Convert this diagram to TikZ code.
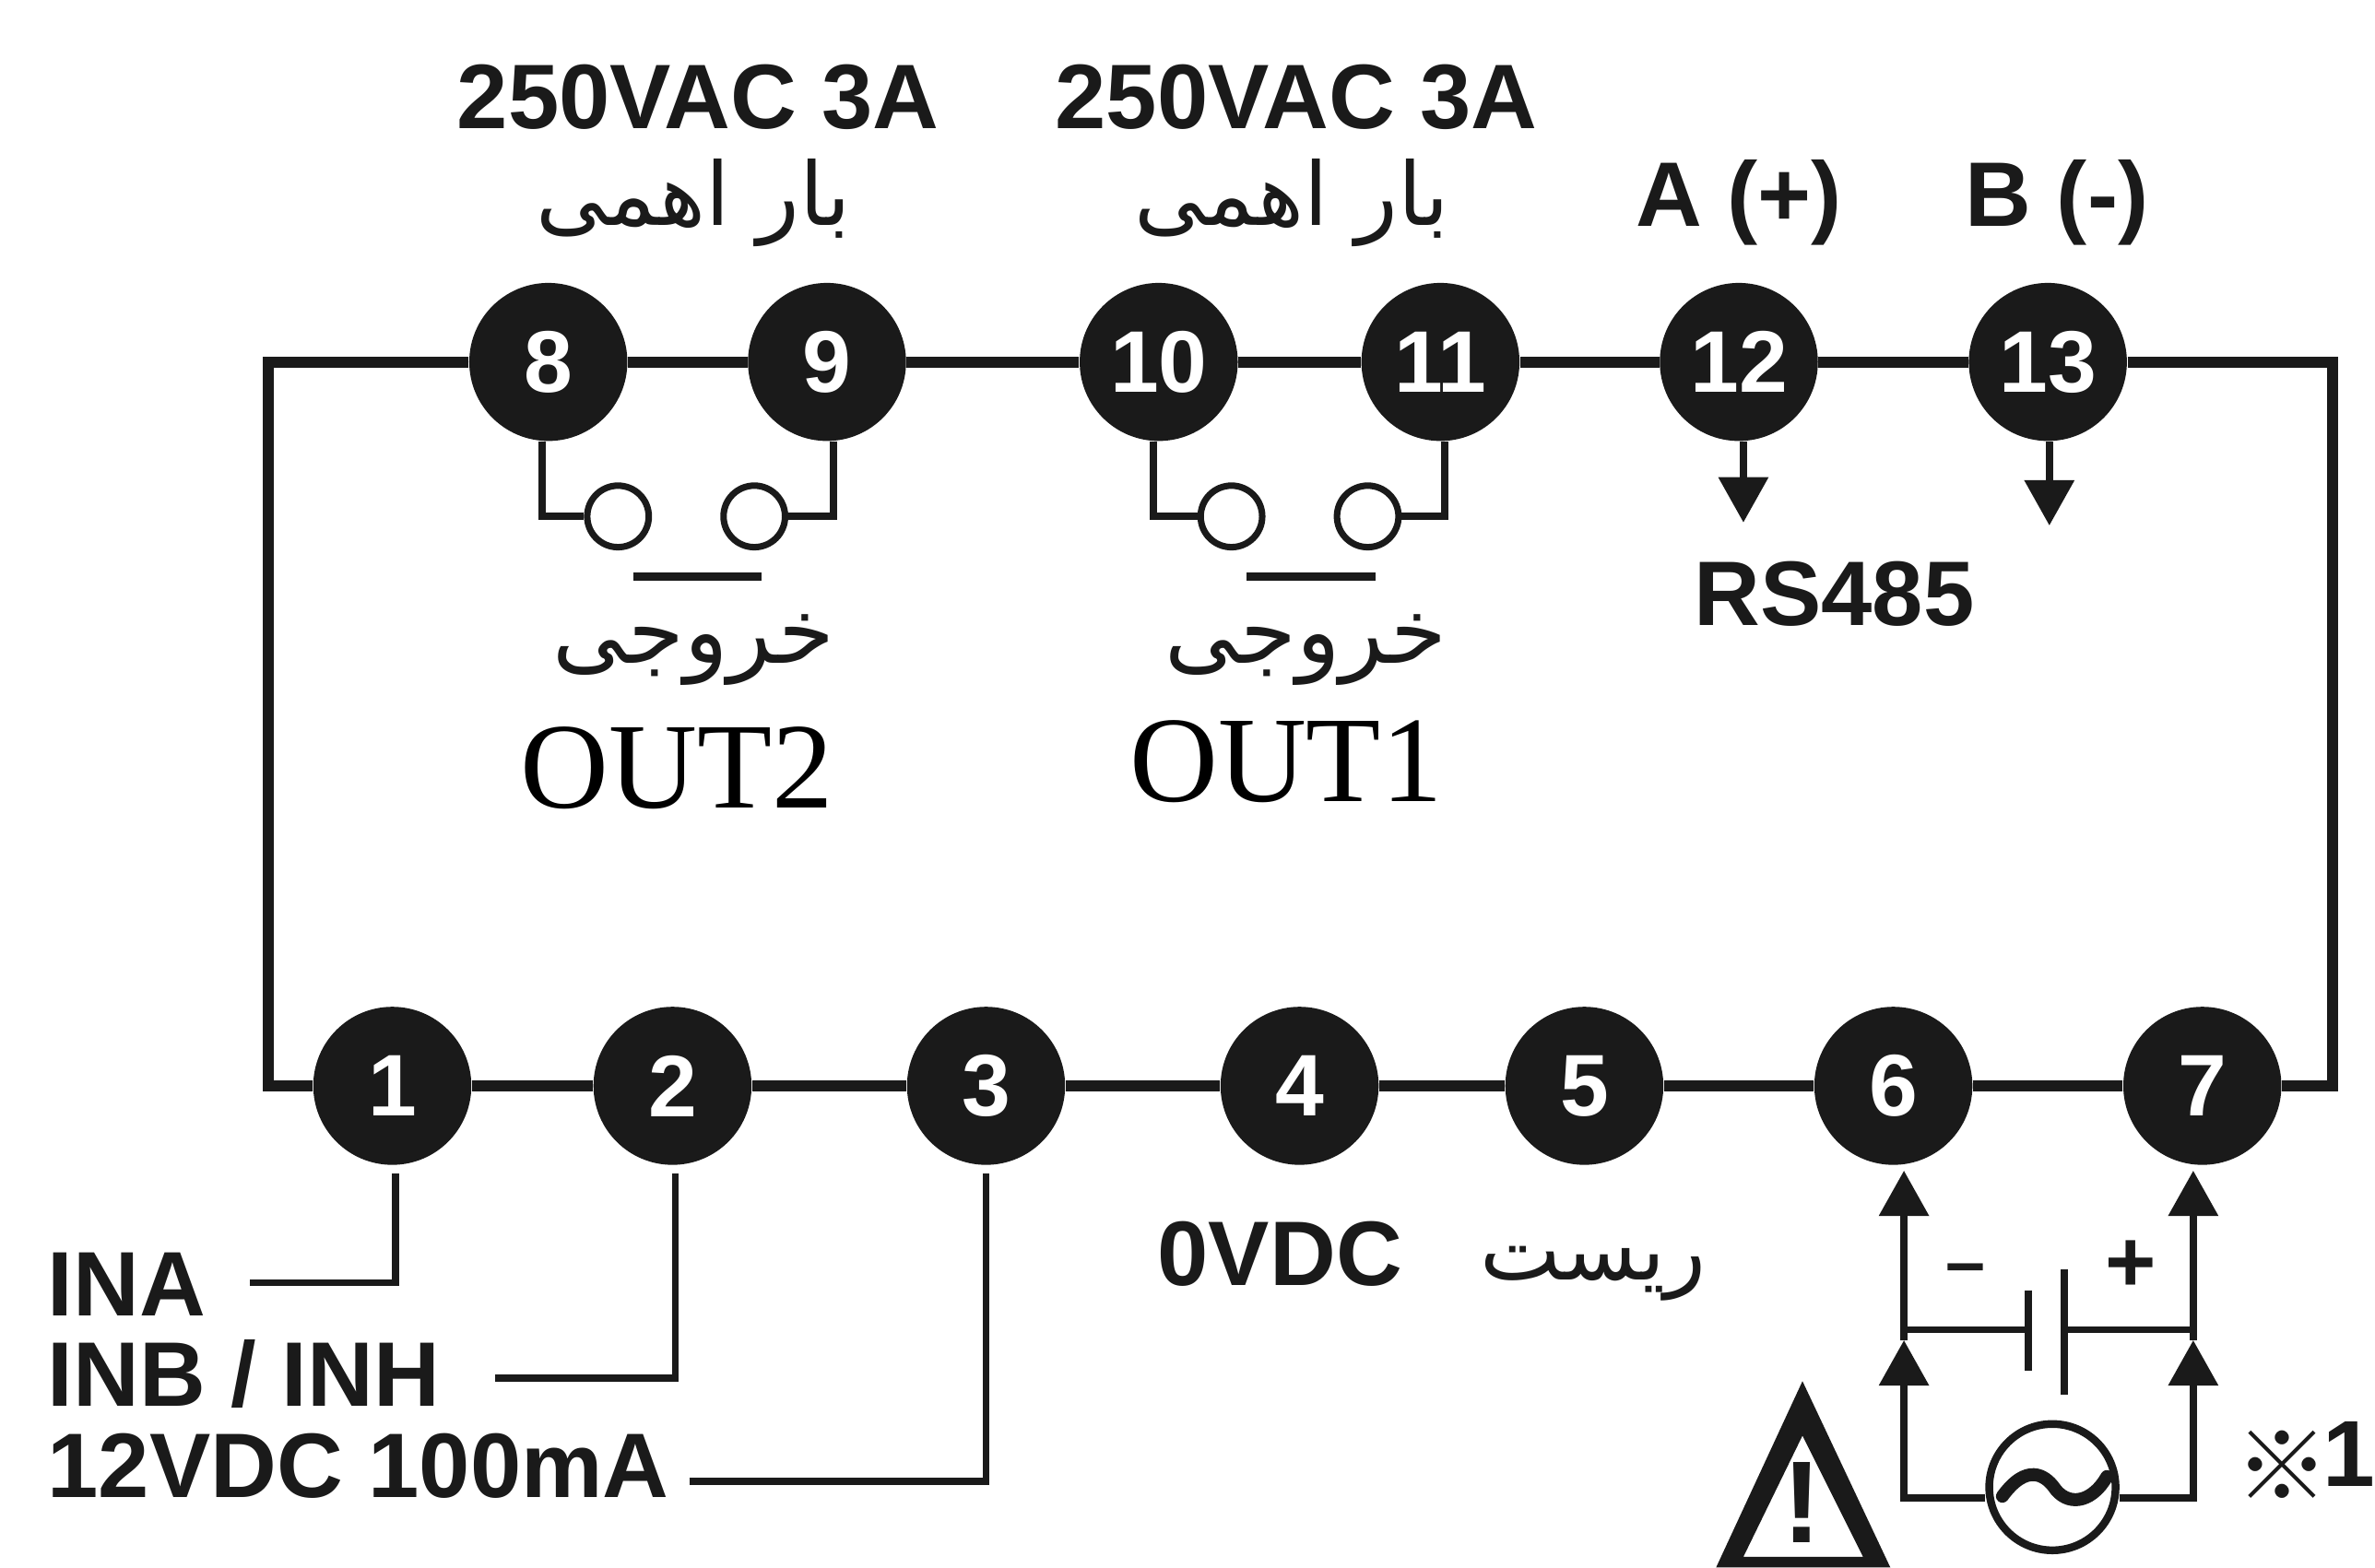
\documentclass[tikz,border=0pt]{standalone}
\usepackage{fontspec}
\usetikzlibrary{arrows.meta}
\setmainfont{Liberation Sans}
\newfontfamily\timesfont{Liberation Serif}
\newfontfamily\arabicfont[Script=Arabic]{DejaVu Sans}
\newfontfamily\cjkfont{Noto Sans CJK JP}
\TeXXeTstate=1
\definecolor{ink}{HTML}{1A1A1A}
\tikzset{
  term/.style={circle,fill=ink,text=white,minimum size=48.8pt,inner sep=0pt,font=\fontsize{27}{28}\selectfont\bfseries},
  contact/.style={circle,draw=ink,line width=2pt,fill=white,minimum size=19pt,inner sep=0pt},
  frameline/.style={draw=ink,line width=3.4pt,line join=miter},
  wire/.style={draw=ink,line width=2.2pt,line join=miter},
  arrowwire/.style={wire,-{Triangle[length=14pt,width=15pt]}},
  lab/.style={text=ink,inner sep=0pt,font=\fontsize{28.3}{29}\selectfont\bfseries},
  arlab/.style={text=ink,inner sep=0pt,font=\fontsize{27}{28}\selectfont\arabicfont},
  outlab/.style={text=black,inner sep=0pt,font=\fontsize{37.8}{38}\selectfont\timesfont},
}
\begin{document}
\begin{tikzpicture}[x=0.016429cm,y=-0.016429cm]
\useasboundingbox (0,0) rectangle (1568,1035);
% terminals
\foreach \n/\x in {8/362,9/546,10/765,11/951,12/1148,13/1352}
  \node[term] (n\n) at (\x,239) {\n};
\foreach \n/\x in {1/259,2/444,3/651,4/858,5/1046,6/1250,7/1454}
  \node[term] (n\n) at (\x,717) {\n};
% frame
\coordinate (tl) at (177,239);
\coordinate (tr) at (1540,239);
\coordinate (bl) at (177,717);
\coordinate (br) at (1540,717);
\draw[frameline] (n8) -- (n9) -- (n10) -- (n11) -- (n12) -- (n13) -- (tr) -- (br) -- (n7) -- (n6) -- (n5) -- (n4) -- (n3) -- (n2) -- (n1) -- (bl) -- (tl) -- (n8);
% contacts
\foreach \a/\x in {c8/408,c9/498,c10/813,c11/903}
  \node[contact] (\a) at (\x,341) {};
\draw[wire] ([xshift=-1.9pt]n8.south) |- (c8);
\draw[wire] ([xshift=1.9pt]n9.south) |- (c9);
\draw[wire] ([xshift=-1.6pt]n10.south) |- (c10);
\draw[wire] ([xshift=1.4pt]n11.south) |- (c11);
\coordinate (b2a) at (418,381); \coordinate (b2b) at (503,381);
\coordinate (b1a) at (823,381); \coordinate (b1b) at (908,381);
\draw[wire,line width=2.6pt] (b2a) -- (b2b);
\draw[wire,line width=2.6pt] (b1a) -- (b1b);
% RS485 arrows
\coordinate (a12) at (1151,345);
\coordinate (a13) at (1353,347);
\draw[arrowwire] (n12.south -| a12) -- (a12);
\draw[arrowwire] (n13.south -| a13) -- (a13);
% top labels
\node[lab] (v2) at (461,64) {250VAC 3A};
\node[lab] (v1) at (856,64) {250VAC 3A};
\node[arlab] (r2) at (458,134) {\beginR بار اهمی\endR};
\node[arlab] (r1) at (853,134) {\beginR بار اهمی\endR};
\node[lab] (la) at (1148,134) {A (+)};
\node[lab] (lb) at (1358,134) {B (-)};
\node[lab] (rs) at (1211,392) {RS485};
\node[arlab,font=\fontsize{28}{29}\selectfont\arabicfont] (k2) at (458,429) {\beginR خروجی\endR};
\node[arlab,font=\fontsize{28}{29}\selectfont\arabicfont] (k1) at (862,429) {\beginR خروجی\endR};
\node[outlab] (o2) at (447,507) {OUT2};
\node[outlab] (o1) at (849,503) {OUT1};
% inputs
\node[lab,anchor=west] (ina) at (31,848) {INA};
\node[lab,anchor=west] (inb) at (31,907) {INB / INH};
\node[lab,anchor=west] (v12) at (31,968) {12VDC 100mA};
\coordinate (wa) at (165,847);
\coordinate (wb) at (327,910);
\coordinate (wc) at (455,978);
\draw[wire,shorten >=2.4pt] (wa) -| ([xshift=1pt]n1.south);
\draw[wire,shorten >=2.4pt] (wb) -| ([xshift=0.9pt]n2.south);
\draw[wire,shorten >=2.4pt] (wc) -| (n3.south);
\node[lab] (vdc) at (845,828) {0VDC};
\node[arlab,font=\fontsize{26.5}{27}\selectfont\arabicfont] (rst) at (1052,841) {\beginR ریست\endR};
% power
\node[circle,draw=ink,line width=2.4pt,minimum size=39pt,inner sep=0pt] (ac) at (1355,982) {};
\draw[draw=ink,line width=4pt,line cap=round] (1322,988) .. controls (1338,966) and (1350,974) .. (1356,982) .. controls (1364,994) and (1380,994) .. (1391,975);
\coordinate (j1) at (1257,885);
\coordinate (j2) at (1448,885);
\coordinate (p6) at (1257,773);
\coordinate (p7) at (1448,773);
\draw[arrowwire] ([yshift=-3.3pt]ac.west) -| (j1);
\draw[arrowwire] ([yshift=-3.3pt]ac.east) -| (j2);
\draw[arrowwire] (j1) -- (p6);
\draw[arrowwire] (j2) -- (p7);
\coordinate (pl) at (1339,878);
\coordinate (pr) at (1363,878);
\coordinate (pla) at (1339,852); \coordinate (plb) at (1339,905);
\coordinate (pra) at (1363,838); \coordinate (prb) at (1363,921);
\draw[wire] (j1 |- pl) -- (pl);
\draw[wire] (pr) -- (j2 |- pr);
\draw[wire] (pla) -- (plb);
\draw[wire] (pra) -- (prb);
\node[text=ink,inner sep=0pt,font=\fontsize{22}{22}\selectfont\bfseries] (mn) at (1298,842) {–};
\node[text=ink,inner sep=0pt,font=\fontsize{27}{27}\selectfont\bfseries] (pls) at (1407,836) {+};
% warning triangle
\fill[ink,even odd rule] (1190,912) -- (1248,1035) -- (1133,1035) -- cycle
  (1190,948) -- (1230,1028) -- (1151,1028) -- cycle;
\node[text=ink,inner sep=0pt,font=\fontsize{36}{36}\selectfont\bfseries] (ex) at (1190,992) {!};
% note
\node[text=ink,inner sep=0pt,font=\fontsize{29}{29}\selectfont\cjkfont] (nt) at (1507,968) {※};
\node[text=ink,inner sep=0pt,font=\fontsize{29}{29}\selectfont\bfseries] (one) at (1551,960) {1};
\end{tikzpicture}
\end{document}
